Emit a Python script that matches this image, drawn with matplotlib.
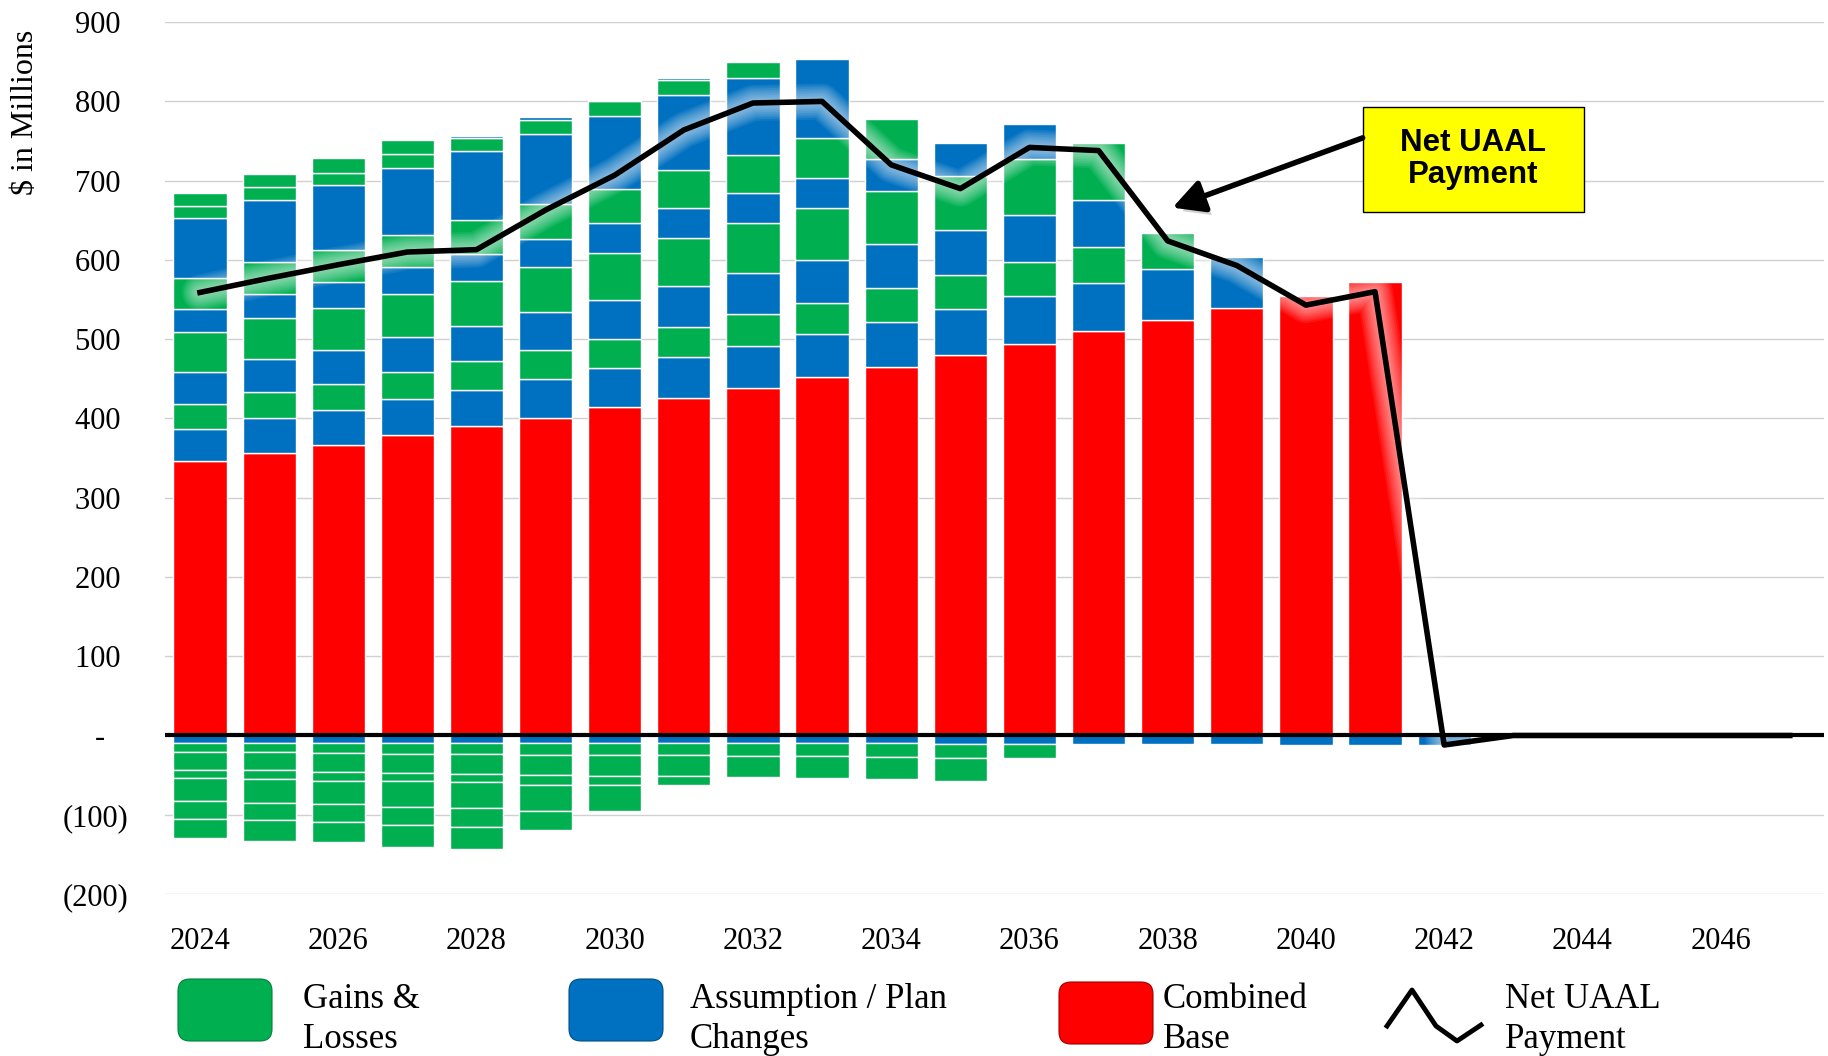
import matplotlib
matplotlib.use("Agg")
import matplotlib.pyplot as plt
import matplotlib.patheffects as pe
from matplotlib.patches import FancyBboxPatch, Rectangle
import numpy as np

plt.rcParams['font.family'] = ['Liberation Serif', 'DejaVu Serif']

years = list(range(2024, 2048))

# Combined base payment (red), bottom of each bar
combined_base = [346, 357, 367, 379, 390, 401, 414, 426, 439, 452, 465, 480,
                 494, 510, 524, 540, 555, 572]

# Positive amortization layers stacked on the combined base, bottom to top
asm_1 = [41, 43, 44, 45, 46, 49, 50, 52, 53, 54, 57, 58, 60, 61, 65, 64]
gl_1 = [31, 33, 33, 35, 36, 36, 36, 37, 40, 40, 42, 43, 44, 45, 45]
asm_2 = [41, 42, 42, 44, 45, 48, 49, 52, 52, 54, 56, 57, 59, 60]
gl_2 = [50, 52, 54, 54, 57, 57, 60, 61, 63, 66, 67, 68, 70, 72]
asm_3 = [29, 30, 32, 34, 33, 35, 37, 37, 38, 38, 40, 42, 44]
gl_3 = [39, 40, 41, 41, 43, 44, 44, 48, 48, 50, 51]
asm_4 = [76, 79, 81, 84, 88, 89, 92, 95, 97, 100]
gl_4 = [15, 16, 16, 18, 16, 18, 18, 19, 20]
gl_5 = [17, 17, 18, 17]
asm_5 = [0, 0, 0, 0, 3, 3, 2, 3]

# Negative layers, stacked from zero downward
asm_neg = [-9, -9, -9, -9, -9, -10, -10, -10, -10, -10, -10, -11, -11, -11,
           -11, -11, -12, -12, -12]
gl_neg_1 = [-12, -12, -13, -14, -14, -14, -15, -15, -16, -16, -17, -17, -17]
gl_neg_2 = [-22, -23, -24, -24, -25, -26, -26, -26, -26, -27, -28, -30]
gl_neg_3 = [-10, -11, -11, -11, -11, -12, -12, -12]
gl_neg_4 = [-30, -30, -30, -32, -32, -33, -32]
gl_neg_5 = [-22, -22, -22, -23, -24, -24]
gl_neg_6 = [-24, -26, -26, -28, -28]

net_payment = [559, 577, 594, 610, 613, 663, 707, 764, 798, 800, 720, 690,
               742, 738, 624, 593, 543, 560, -12, 0, 0, 0, 0, 0]

GREEN = '#00B050'
BLUE = '#0070C0'
RED = '#FF0000'

x = np.arange(len(years))


def pad(vals):
    return np.array(list(vals) + [0] * (len(years) - len(vals)), dtype=float)


def stack(ax, layers):
    bottom = np.zeros(len(years))
    for vals, color in layers:
        v = pad(vals)
        m = v != 0
        ax.bar(x[m], v[m], bottom=bottom[m], width=0.77, color=color,
               edgecolor='white', linewidth=1.0, zorder=2)
        bottom += v


fig = plt.figure(figsize=(18.28, 10.56), dpi=100)
ax = fig.add_axes([0.0905, 0.1534, 0.9075, 0.8256])

stack(ax, [(combined_base, RED), (asm_1, BLUE), (gl_1, GREEN), (asm_2, BLUE),
           (gl_2, GREEN), (asm_3, BLUE), (gl_3, GREEN), (asm_4, BLUE),
           (gl_4, GREEN), (gl_5, GREEN), (asm_5, BLUE)])
stack(ax, [(asm_neg, BLUE), (gl_neg_1, GREEN), (gl_neg_2, GREEN),
           (gl_neg_3, GREEN), (gl_neg_4, GREEN), (gl_neg_5, GREEN),
           (gl_neg_6, GREEN)])

ax.axhline(0, color='black', lw=3, zorder=4)

# soft white glow under the payment line
for w in np.linspace(26, 6, 9):
    ax.plot(x, net_payment, color='white', lw=w, alpha=0.075,
            solid_capstyle='round', solid_joinstyle='round', zorder=3)
ax.plot(x, net_payment, color='black', lw=4, zorder=5)

ax.set_xlim(-0.5, len(years) - 0.5)
ax.set_ylim(-200, 900)
yt = list(range(-200, 901, 100))
ylabels = []
for v in yt:
    if v > 0:
        ylabels.append(f'{v} ')
    elif v == 0:
        ylabels.append('-   ')
    else:
        ylabels.append(f'({-v})')
ax.set_yticks(yt)
ax.set_yticklabels(ylabels)
ax.set_xticks(x[::2])
ax.set_xticklabels([str(y) for y in years[::2]])
ax.tick_params(axis='both', length=0, labelsize=22)
ax.tick_params(axis='y', pad=27)
ax.tick_params(axis='x', pad=24)
ax.grid(axis='y', color='#d0d0d0', lw=1.0)
ax.set_axisbelow(True)
for s in ax.spines.values():
    s.set_visible(False)

# callout box and arrow
ax.add_patch(Rectangle((16.82, 661), 3.21, 132, facecolor='#FFFF00',
                       edgecolor='black', lw=1, zorder=6))
ax.text(18.42, 727, 'Net UAAL\nPayment', ha='center', va='center',
        fontsize=22.5, fontweight='bold', family='Liberation Sans',
        linespacing=1.1, zorder=7)
arr = ax.annotate('', xy=(14.07, 666), xytext=(16.82, 754),
                  arrowprops=dict(arrowstyle='-|>,head_length=0.95,head_width=0.5',
                                  lw=4, color='black', mutation_scale=20,
                                  shrinkA=0, shrinkB=0), zorder=6)
arr.arrow_patch.set_path_effects([
    pe.SimplePatchShadow(offset=(3, -4), shadow_rgbFace='#808080', alpha=0.35),
    pe.Normal()])

fig.text(26 / 1828, 1 - 30 / 1056, '$ in Millions', rotation=90, va='top',
         ha='center', fontsize=23)

# legend drawn in figure pixel space
lax = fig.add_axes([0, 0, 1, 1])
lax.set_xlim(0, 1828)
lax.set_ylim(1056, 0)
lax.axis('off')
lax.patch.set_visible(False)

swatches = [(178, 979, GREEN, '#00803a', 'Gains &\nLosses', 303),
            (569, 979, BLUE, '#004f88', 'Assumption / Plan\nChanges', 690),
            (1059, 982, RED, '#a00000', 'Combined\nBase', 1163)]
for sx, sy, fc, ec, label, tx in swatches:
    lax.add_patch(FancyBboxPatch((sx, sy), 94, 62,
                                 boxstyle='round,pad=0,rounding_size=12',
                                 fc=fc, ec=ec, lw=0.8))
    lax.text(tx, 983, label, ha='left', va='top', fontsize=25,
             linespacing=1.3)

lax.plot([1387, 1412, 1436, 1457, 1481], [1026, 990, 1026, 1041, 1025],
         color='black', lw=3.5)
lax.text(1505, 983, 'Net UAAL\nPayment', ha='left', va='top', fontsize=25,
         linespacing=1.3)

fig.savefig('out.png', dpi=100)
